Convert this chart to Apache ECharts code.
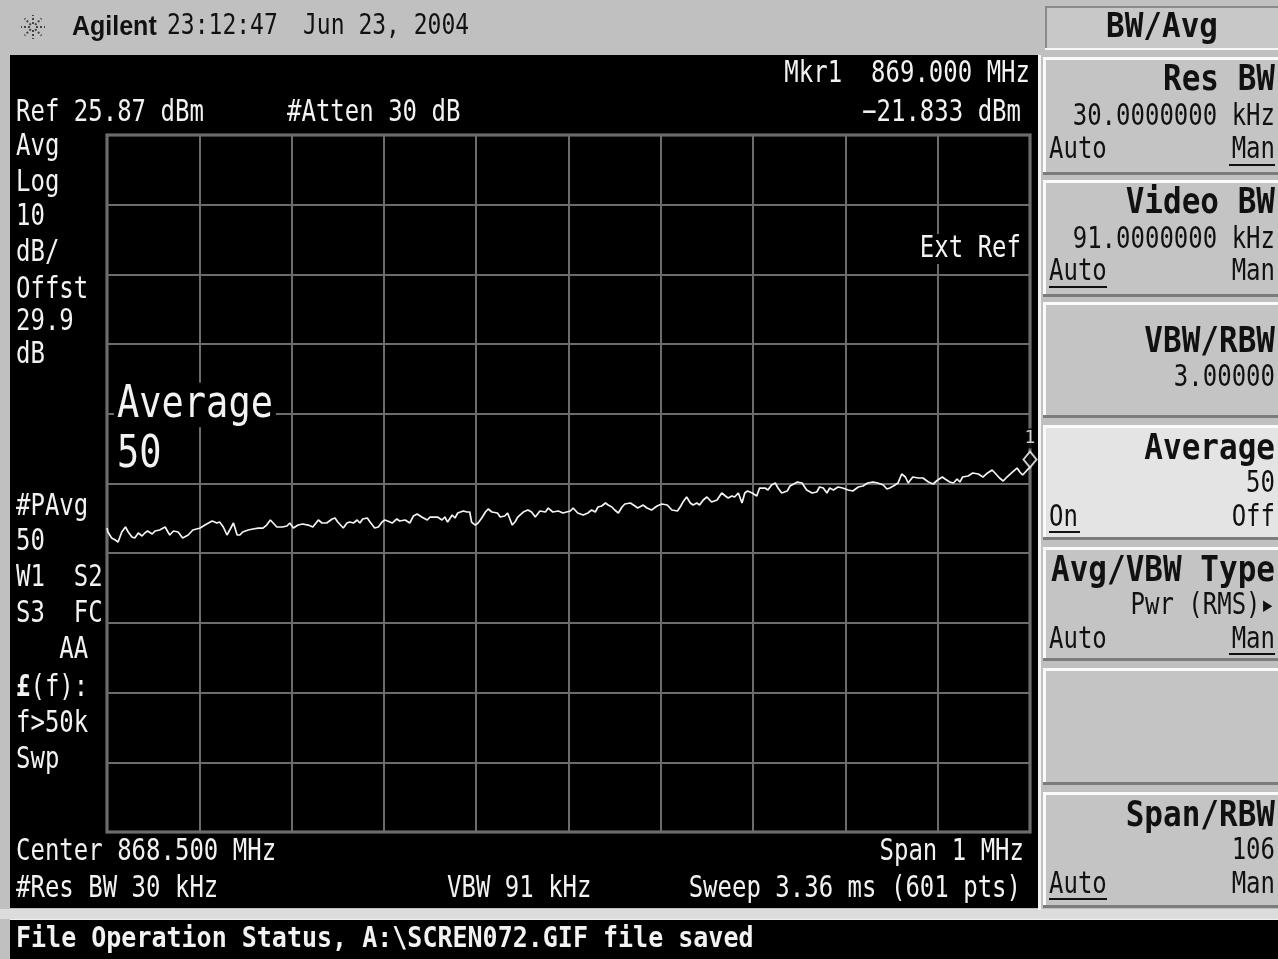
<!DOCTYPE html>
<html>
<head>
<meta charset="utf-8">
<script src="https://cdn.jsdelivr.net/npm/echarts@6/dist/echarts.min.js"></script>
<style>
  html, body { margin: 0; padding: 0; background: #c0c0c0; }
  #screen { width: 1278px; height: 959px; }
</style>
</head>
<body>
<div id="screen"></div>
<script>
// Averaged trace: frequency (MHz) and level (dBm)
const freqMHz = [
  868.000,868.001,868.005,868.009,868.012,868.016,868.020,868.023,868.027,868.030,868.034,868.038,868.041,868.044,868.049,868.052,868.057,868.063,868.066,868.068,868.072,868.077,868.082,868.088,868.093,868.101,868.106,868.114,868.119,868.122,868.126,868.130,868.133,868.137,868.141,868.144,868.147,868.153,868.158,868.164,868.169,868.173,868.177,868.180,868.184,868.190,868.195,868.198,868.202,868.207,868.212,868.218,868.223,868.229,868.233,868.238,868.244,868.247,
  868.250,868.256,868.260,868.263,868.267,868.271,868.274,868.277,868.282,868.285,868.290,868.294,868.298,868.301,868.304,868.309,868.314,868.317,868.323,868.328,868.332,868.336,868.341,868.347,868.350,868.358,868.363,868.366,868.369,868.374,868.377,868.380,868.386,868.390,868.393,868.395,868.399,868.402,868.406,868.410,868.413,868.417,868.423,868.426,868.431,868.434,868.439,868.442,868.445,868.451,868.456,868.460,868.464,868.469,868.475,868.478,868.483,868.489,
  868.494,868.496,868.502,868.505,868.510,868.516,868.521,868.525,868.529,868.532,868.536,868.540,868.543,868.547,868.550,868.554,868.558,868.561,868.567,868.572,868.575,868.581,868.585,868.590,868.596,868.601,868.607,868.612,868.618,868.621,868.624,868.628,868.632,868.635,868.639,868.642,868.646,868.650,868.655,868.661,868.666,868.670,868.673,868.677,868.680,868.684,868.688,868.691,868.694,868.699,868.704,868.707,868.713,868.716,868.720,868.724,868.727,868.731,868.737,868.740,
  868.748,868.753,868.758,868.764,868.769,868.772,868.776,868.780,868.783,868.787,868.792,868.797,868.803,868.808,868.814,868.819,868.824,868.830,868.835,868.841,868.845,868.848,868.852,868.857,868.861,868.865,868.868,868.873,868.879,868.884,868.890,868.895,868.900,868.905,868.908,868.913,868.917,868.921,868.924,868.927,868.933,868.938,868.944,868.949,868.954,868.959,868.962,868.967,868.971,868.975,868.980,868.986,868.989,868.992,868.997,869.000
];
const levelDbm = [
  -30.52,-31.09,-31.95,-32.24,-32.52,-31.09,-30.37,-31.09,-31.81,-31.95,-31.23,-31.66,-31.23,-30.95,-31.38,-30.95,-30.80,-30.37,-31.09,-31.52,-30.95,-31.09,-31.95,-31.52,-30.80,-30.52,-30.09,-29.51,-29.80,-29.66,-30.37,-31.52,-30.80,-29.80,-31.52,-31.52,-31.09,-30.80,-30.66,-30.52,-30.52,-30.09,-29.37,-29.80,-30.37,-30.37,-30.23,-29.80,-30.52,-30.09,-29.94,-30.09,-30.37,-29.37,-29.80,-29.80,-29.22,-29.08,
  -29.66,-30.52,-29.80,-29.66,-29.80,-29.37,-29.80,-29.22,-29.08,-29.66,-30.52,-30.37,-29.66,-29.37,-29.51,-29.80,-29.22,-29.51,-29.37,-29.80,-28.79,-28.51,-28.94,-29.37,-28.94,-28.94,-29.37,-28.94,-29.66,-28.65,-29.08,-28.36,-28.08,-28.22,-28.22,-29.66,-30.09,-29.80,-29.08,-28.22,-27.79,-28.22,-28.36,-28.94,-28.79,-28.36,-30.09,-29.66,-28.94,-28.22,-27.93,-28.22,-28.94,-28.08,-28.22,-27.65,-28.22,-28.08,
  -28.36,-28.22,-28.08,-27.65,-28.36,-28.65,-28.36,-27.93,-28.22,-27.50,-27.36,-26.93,-27.22,-27.50,-27.93,-28.36,-27.50,-27.07,-26.93,-27.36,-27.65,-27.22,-27.65,-27.93,-27.36,-27.07,-27.22,-27.93,-28.08,-27.50,-26.79,-26.07,-26.93,-27.22,-26.93,-27.22,-26.50,-26.07,-26.79,-26.50,-25.49,-25.92,-26.21,-25.92,-26.07,-25.49,-26.93,-25.49,-25.21,-25.49,-25.92,-24.78,-24.78,-25.06,-24.35,-24.06,-24.78,-25.49,-25.21,-24.49,
  -23.92,-24.06,-25.06,-25.49,-25.35,-24.63,-24.78,-25.49,-24.78,-25.06,-24.63,-24.78,-25.06,-25.21,-24.63,-24.49,-24.06,-23.92,-24.06,-24.35,-24.92,-24.78,-24.49,-24.06,-22.77,-23.20,-24.06,-23.20,-23.34,-23.34,-23.92,-24.20,-23.63,-23.20,-23.49,-23.92,-24.06,-23.49,-23.92,-23.20,-23.05,-22.62,-22.77,-23.20,-22.62,-22.19,-22.62,-23.34,-23.77,-23.20,-22.62,-21.91,-22.48,-22.91,-22.19,-21.833
];

// Display scale settings
const refLevelDbm = 25.87;
const dbPerDiv = 10;
const divisions = 10;
const startMHz = 868.0;
const stopMHz = 869.0;
const marker = { freq: 869.000, level: -21.833, name: '1' };

// Annotation texts
const headerTexts = ['Agilent', '23:12:47', 'Jun 23, 2004'];
const leftStatus = ['Avg', 'Log', '10', 'dB/', 'Offst', '29.9', 'dB'];
const leftStatus2 = ['#PAvg', '50', 'W1  S2', 'S3  FC', '   AA', '{b|£}(f):', 'f>50k', 'Swp'];

const MONO = "'DejaVu Sans Mono', monospace";
const FG = '#f2f2f2';

function txt(s, x, y, o = {}) {
  const st = {
    text: s,
    fill: o.fill || FG,
    fontFamily: o.fam || MONO,
    fontSize: o.size || 24,
    fontWeight: o.w || 'normal',
    textAlign: o.align || 'left',
    textVerticalAlign: 'middle',
    align: o.align || 'left',
    verticalAlign: 'middle',
    rich: { b: { fontFamily: o.fam || MONO, fontSize: o.size || 24, fontWeight: 'bold', fill: o.fill || FG } }
  };
  if (o.bg) { st.backgroundColor = o.bg; st.padding = o.pad || [2, 4]; }
  return { type: 'text', x: x, y: y, z: o.z || 5, scaleY: o.sy || 1.25, style: st, silent: true };
}
function rect(x, y, w, h, fill, z) {
  return { type: 'rect', shape: { x, y, width: w, height: h }, style: { fill }, z: z === undefined ? -10 : z, silent: true };
}
function line(x1, y1, x2, y2, stroke, w, z, dash) {
  return { type: 'line', shape: { x1, y1, x2, y2 }, style: { stroke, lineWidth: w, lineDash: dash || null }, z: z === undefined ? -9 : z, silent: true };
}
// Bevelled softkey box
function softkey(y0, y1, highlight) {
  const x0 = 1043, x1 = 1280;
  return [
    rect(x0, y0, x1 - x0, y1 - y0, highlight ? '#e4e4e4' : '#c4c4c4', -9),
    line(x0, y0 + 1.5, x1, y0 + 1.5, '#fafafa', 3, -8),
    line(x0 + 1.5, y0, x0 + 1.5, y1, '#fafafa', 3, -8),
    line(x0, y1 - 1.5, x1, y1 - 1.5, '#7c7c7c', 3, -8),
  ];
}

const elements = [];
// Frame pieces
elements.push(rect(0, 0, 1278, 959, '#c0c0c0', -12));
elements.push(rect(10, 55, 1028, 853, '#000000'));
elements.push(line(1039.5, 55, 1039.5, 910, '#f4f4f4', 3));
elements.push(rect(0, 909, 1278, 10, '#dcdcdc'));
elements.push(rect(10, 919, 1268, 40, '#000000'));
elements.push(line(10, 919.5, 1278, 919.5, '#f0f0f0', 1));

// Logo starburst
for (let k = 0; k < 8; k++) {
  const a = k * Math.PI / 4;
  elements.push(line(33 + 3 * Math.cos(a), 27 + 3 * Math.sin(a), 33 + 12 * Math.cos(a), 27 + 12 * Math.sin(a), '#444444', 2, 1, [2, 2]));
}
elements.push(txt(headerTexts[0], 72, 27, { fam: "'Liberation Sans', Arial, sans-serif", w: 'bold', size: 25, fill: '#111', sy: 1.1 }));
elements.push(txt(headerTexts[1], 167, 27, { size: 23, fill: '#111', sy: 1.25 }));
elements.push(txt(headerTexts[2], 303, 27, { size: 23, fill: '#111', sy: 1.25 }));

// Screen annotations
elements.push(txt('Mkr1  869.000 MHz', 1030, 74, { align: 'right' }));
elements.push(txt('Ref 25.87 dBm', 16, 113));
elements.push(txt('#Atten 30 dB', 287, 113));
elements.push(txt('\u221221.833 dBm', 1021, 113, { align: 'right' }));
const leftY = [147, 183, 217, 253, 290, 322, 355];
leftStatus.forEach((s, i) => elements.push(txt(s, 16, leftY[i])));
const leftY2 = [507, 542, 578, 614, 650, 688, 724, 760];
leftStatus2.forEach((s, i) => elements.push(txt(s, 16, leftY2[i])));
elements.push(txt('Ext Ref', 1024, 249, { align: 'right', bg: '#000', pad: [0, 3] }));
elements.push(txt('Average', 114, 405, { size: 37, sy: 1.2, bg: '#000', pad: [0, 3] }));
elements.push(txt('50', 114, 455, { size: 37, sy: 1.2, bg: '#000', pad: [0, 3] }));
elements.push(txt('Center 868.500 MHz', 16, 852));
elements.push(txt('Span 1 MHz', 1024, 852, { align: 'right' }));
elements.push(txt('#Res BW 30 kHz', 16, 889));
elements.push(txt('VBW 91 kHz', 447, 889));
elements.push(txt('Sweep 3.36 ms (601 pts)', 1021, 889, { align: 'right' }));
elements.push(txt('File Operation Status, A:\\SCREN072.GIF file saved', 16, 940, { w: 'bold', size: 25, sy: 1.15 }));

// Menu panel
elements.push(rect(1045, 6, 233, 44, '#c8c8c8', -9));
elements.push(line(1045, 7, 1278, 7, '#8a8a8a', 2, -8));
elements.push(line(1046, 6, 1046, 50, '#8a8a8a', 2, -8));
elements.push(line(1045, 49, 1278, 49, '#f6f6f6', 2, -8));
elements.push(txt('BW/Avg', 1162, 28, { align: 'center', w: 'bold', size: 31, fill: '#111', sy: 1.1 }));

const keyRows = [[57, 175], [180, 297], [302, 418], [425, 540], [547, 661], [668, 785], [792, 908]];
keyRows.forEach((r, i) => softkey(r[0], r[1], i === 3).forEach(e => elements.push(e)));

const KD = '#111111';
const title = (s, y) => txt(s, 1275, y, { align: 'right', w: 'bold', size: 31, fill: KD, sy: 1.12 });
const val = (s, y) => txt(s, 1275, y, { align: 'right', fill: KD });
const lft = (s, y) => txt(s, 1049, y, { fill: KD });
const ul = (x1, x2, y) => line(x1, y, x2, y, KD, 2, 6);

elements.push(title('Res BW', 81), val('30.0000000 kHz', 117), lft('Auto', 150), val('Man', 150), ul(1229, 1275, 165));
elements.push(title('Video BW', 204), val('91.0000000 kHz', 240), lft('Auto', 272), val('Man', 272), ul(1049, 1107, 287));
elements.push(title('VBW/RBW', 343), val('3.00000', 378));
elements.push(title('Average', 450), val('50', 484), lft('On', 518), val('Off', 518), ul(1049, 1080, 532));
elements.push(title('Avg/VBW Type', 572), val('Pwr (RMS)\u25B8', 606), lft('Auto', 640), val('Man', 640), ul(1229, 1275, 654));
elements.push(title('Span/RBW', 817), val('106', 851), lft('Auto', 885), val('Man', 885), ul(1049, 1107, 899));

const chart = echarts.init(document.getElementById('screen'), null, { renderer: 'canvas' });
const gridLine = { show: true, lineStyle: { color: '#6c6c6c', width: 2 } };
chart.setOption({
  animation: false,
  backgroundColor: '#c0c0c0',
  grid: { left: 107, top: 135, width: 923, height: 697, show: true, borderColor: '#7e7e7e', borderWidth: 3, backgroundColor: 'transparent' },
  xAxis: [
    { type: 'value', min: startMHz, max: stopMHz, show: false },
    { type: 'value', min: 0, max: divisions, interval: 1, axisLine: { show: false }, axisTick: { show: false }, axisLabel: { show: false }, splitLine: gridLine }
  ],
  yAxis: [
    { type: 'value', min: refLevelDbm - dbPerDiv * divisions, max: refLevelDbm, show: false },
    { type: 'value', min: 0, max: divisions, interval: 1, axisLine: { show: false }, axisTick: { show: false }, axisLabel: { show: false }, splitLine: gridLine }
  ],
  graphic: { elements: elements },
  series: [
    {
      type: 'line',
      xAxisIndex: 0, yAxisIndex: 0,
      data: freqMHz.map((f, i) => [f, levelDbm[i]]),
      showSymbol: false,
      lineStyle: { color: '#f4f4f4', width: 1.7 },
      z: 3,
      silent: true
    },
    {
      type: 'scatter',
      xAxisIndex: 0, yAxisIndex: 0,
      data: [[marker.freq, marker.level]],
      symbol: 'diamond',
      symbolSize: [13, 16],
      symbolOffset: [0, -8],
      clip: false,
      itemStyle: { color: '#000', borderColor: '#ffffff', borderWidth: 2 },
      label: { show: true, position: 'top', distance: 2, formatter: marker.name, color: '#fff', fontFamily: MONO, fontSize: 18, backgroundColor: '#000', padding: [1, 2] },
      z: 4,
      silent: true
    }
  ]
});
</script>
</body>
</html>
